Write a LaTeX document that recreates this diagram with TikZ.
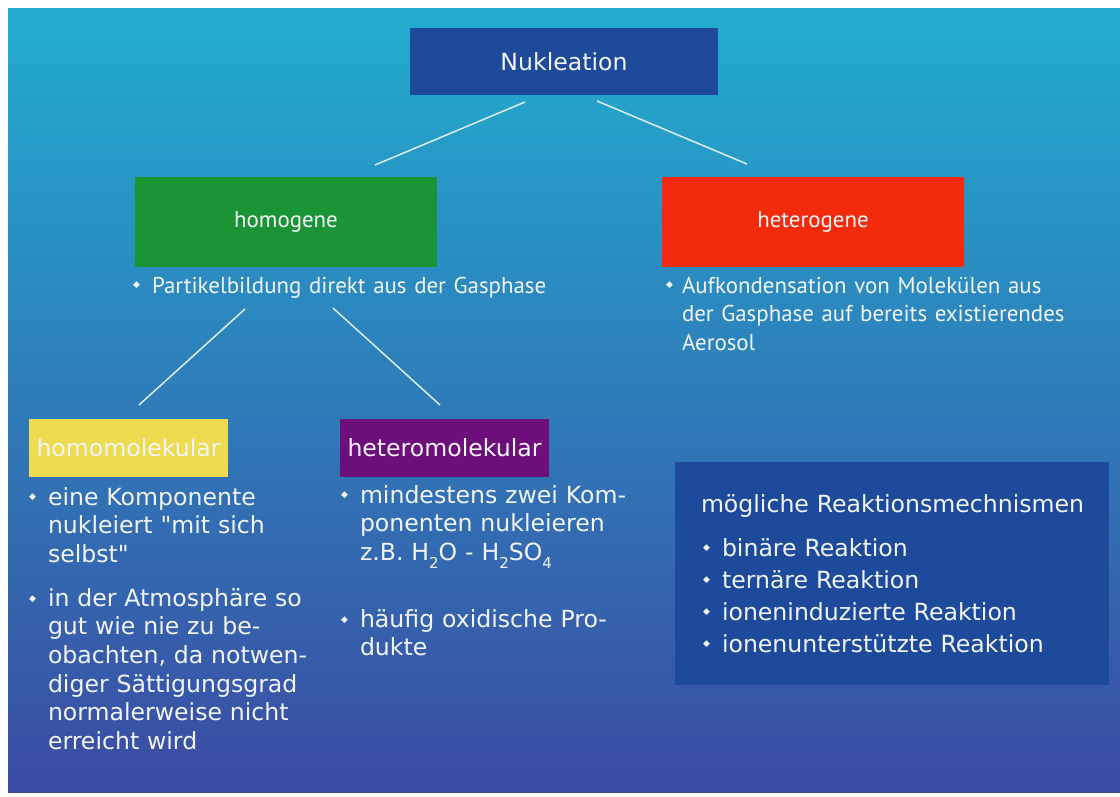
\documentclass[tikz,border=0pt]{standalone}
\usepackage{fontspec}
\setmainfont{DejaVu Sans}[Ligatures=TeXOff]
\newfontfamily\djfont{DejaVu Sans}[Ligatures=TeXOff]
\newfontfamily\myrfont{PT Sans}
\definecolor{bgtop}{HTML}{22ADCF}
\definecolor{bgmid}{HTML}{2D84BE}
\definecolor{bgbot}{HTML}{3B4BA3}
\definecolor{nukblue}{HTML}{1E4A9B}
\definecolor{grn}{HTML}{1A9434}
\definecolor{hetred}{HTML}{F42A0C}
\definecolor{yel}{HTML}{EFDB4F}
\definecolor{purp}{HTML}{6D0E7A}
\definecolor{txt}{HTML}{F2F5FA}
\definecolor{linec}{HTML}{DDEEF6}
\newcommand{\mybul}[1]{\makebox[#1][l]{\raisebox{0.22em}{\djfont\fontsize{9}{9}\selectfont ◆}}}
\newcommand{\myind}[1]{\hspace*{#1}}
\newcommand{\chsub}[1]{\raisebox{-0.35em}{\fontsize{15}{15}\selectfont #1}}
\begin{document}
\begin{tikzpicture}[x=1pt,y=-1pt,
  box/.style={rectangle, inner sep=0pt, outer sep=0pt, text=txt},
  djv/.style={font=\fontsize{23.6}{28.6}\selectfont},
  myr/.style={font=\myrfont\fontsize{22.9}{28.5}\selectfont},
  listnode/.style={anchor=base west, inner sep=0pt, outer sep=0pt, text=txt, text width=#1, align=left},
  link/.style={draw=linec, line width=1.5pt}]
\useasboundingbox (0,0) rectangle (1120,797);
\fill[white] (0,0) rectangle (1120,797);
\shade[top color=bgtop, middle color=bgmid, bottom color=bgbot] (8,9) rectangle (1120,792);

% top level
\node[box, djv, fill=nukblue, minimum width=308pt, minimum height=67pt] (nuk) at (564,61.5) {Nukleation};

% second level
\node[box, myr, fill=grn, minimum width=302pt, minimum height=90pt] (hom) at (286,222) {homogene};
\node[box, myr, fill=hetred, minimum width=302pt, minimum height=90pt] (het) at (813,222) {heterogene};

\node[listnode=520pt, myr] (homtxt) at (133,293) {\mybul{19pt}Partikelbildung direkt aus der Gasphase};
\node[listnode=440pt, myr] (hettxt) at (666,293) {\mybul{16pt}Aufkondensation von Molekülen aus\\
\myind{16pt}der Gasphase auf bereits existierendes\\
\myind{16pt}Aerosol};

% third level
\node[box, djv, fill=yel, minimum width=199pt, minimum height=58pt] (homo) at (128.5,448) {homomolekular};
\node[box, djv, fill=purp, minimum width=209pt, minimum height=58pt] (hetero) at (444.5,448) {heteromolekular};

\node[listnode=300pt, djv] (homolist) at (29,505) {\mybul{19pt}eine Komponente\\
\myind{19pt}nukleiert "mit sich\\
\myind{19pt}selbst"\\[15.4pt]
\mybul{19pt}in der Atmosphäre so\\
\myind{19pt}gut wie nie zu be-\\
\myind{19pt}obachten, da notwen-\\
\myind{19pt}diger Sättigungsgrad\\
\myind{19pt}normalerweise nicht\\
\myind{19pt}erreicht wird};

\node[listnode=320pt, djv] (heterolist) at (341,503) {\mybul{19pt}mindestens zwei Kom-\\
\myind{19pt}ponenten nukleieren\\
\myind{19pt}z.B. H\chsub{2}O - H\chsub{2}SO\chsub{4}\\[38.4pt]
\mybul{19pt}häufig oxidische Pro-\\
\myind{19pt}dukte};

% mechanisms box
\node[box, fill=nukblue, minimum width=434pt, minimum height=223pt] (mech) at (892,573.5) {};
\node[listnode=420pt, font=\fontsize{23.6}{32}\selectfont] (mechtxt) at (701,512) {mögliche Reaktionsmechnismen\\[12pt]
\myind{2pt}\mybul{19pt}binäre Reaktion\\
\myind{2pt}\mybul{19pt}ternäre Reaktion\\
\myind{2pt}\mybul{19pt}ioneninduzierte Reaktion\\
\myind{2pt}\mybul{19pt}ionenunterstützte Reaktion};

% connectors
\coordinate (c1a) at (525,102);
\coordinate (c1b) at (375,165);
\coordinate (c2a) at (597,101);
\coordinate (c2b) at (747,164);
\coordinate (c3a) at (245,309);
\coordinate (c3b) at (139,405);
\coordinate (c4a) at (333,308);
\coordinate (c4b) at (440,405);
\draw[link] (c1a) -- (c1b);
\draw[link] (c2a) -- (c2b);
\draw[link] (c3a) -- (c3b);
\draw[link] (c4a) -- (c4b);
\end{tikzpicture}
\end{document}
